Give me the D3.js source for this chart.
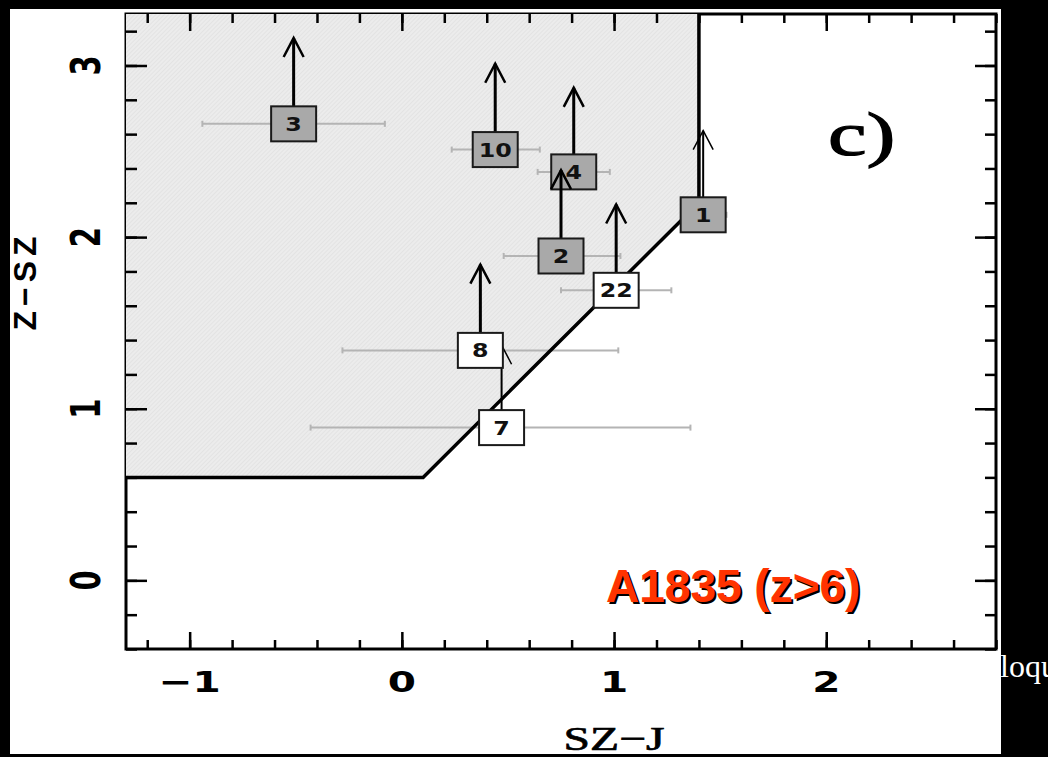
<!DOCTYPE html>
<html>
<head>
<meta charset="utf-8">
<script src="https://cdn.jsdelivr.net/npm/d3@7"></script>
<style>
  html, body { margin: 0; padding: 0; background: #000; overflow: hidden; }
  svg { display: block; }
</style>
</head>
<body>
<div id="chart"></div>
<script>
// values (drawing order matters for overlaps)
const labels   = ["3", "10", "1", "22", "7", "8", "4", "2"];
const szJ      = [-0.51, 0.44, 1.42, 1.01, 0.47, 0.37, 0.81, 0.75];
const zSz      = [2.66, 2.51, 2.13, 1.69, 0.89, 1.34, 2.38, 1.89];
const szJLow   = [-0.94, 0.235, 1.33, 0.75, -0.43, -0.28, 0.64, 0.48];
const szJHigh  = [-0.08, 0.65, 1.53, 1.27, 1.36, 1.02, 0.98, 1.03];
const zSzLimit = [3.16, 3.01, 2.62, 2.19, 1.37, 1.84, 2.87, 2.39];
const groups   = ["in", "in", "in", "out", "out", "out", "in", "in"];

// colour selection boundary
const regionX = [-1.3, 0.1, 1.4, 1.4];
const regionY = [0.6, 0.6, 2.2, 3.3];

const xTickLabels = [-1, 0, 1, 2];
const yTickLabels = [0, 1, 2, 3];

const width = 1048;
const height = 757;

const boxW = 45, boxH = 35;
const stretch = 1.4; // the original figure is stretched sideways
const thinArrows = new Set(["1", "7"]);
const boxFill = { in: "#a9a9a9", out: "#ffffff" };

const svg = d3.select("#chart")
    .append("svg")
    .attr("width", width)
    .attr("height", height);

const x = d3.scaleLinear().domain([-1.3, 2.8]).range([126, 996]);
const y = d3.scaleLinear().domain([-0.4, 3.3]).range([649, 14]);

// hatch for the shaded region
const pat = svg.append("defs").append("pattern")
    .attr("id", "hatch")
    .attr("width", 3)
    .attr("height", 3)
    .attr("patternUnits", "userSpaceOnUse")
    .attr("patternTransform", "rotate(45)");
pat.append("rect").attr("width", 3).attr("height", 3).attr("fill", "#ececec");
pat.append("line").attr("x1", 0).attr("y1", 0).attr("x2", 0).attr("y2", 3)
    .attr("stroke", "#dadada").attr("stroke-width", 1);

// slide text peeking out on the right
svg.append("text")
    .attr("x", 1000)
    .attr("y", 677)
    .attr("fill", "#fff")
    .style("font-family", "Liberation Serif")
    .style("font-size", "32px")
    .text("loqu");

// white panel
svg.append("rect")
    .attr("x", 10)
    .attr("y", 9)
    .attr("width", 991)
    .attr("height", 745)
    .attr("fill", "#fff");

// frame
svg.append("rect")
    .attr("x", x.range()[0])
    .attr("y", y.range()[1])
    .attr("width", x.range()[1] - x.range()[0])
    .attr("height", y.range()[0] - y.range()[1])
    .attr("fill", "none")
    .attr("stroke", "#000")
    .attr("stroke-width", 3);

// shaded region
const polyPts = regionX.map((d, i) => [x(d), y(regionY[i])]);
polyPts.push([x(x.domain()[0]), y(y.domain()[1])]);
svg.append("polygon")
    .attr("points", polyPts.map(p => p.join(",")).join(" "))
    .attr("fill", "url(#hatch)");

// ticks on all four sides, pointing in
const xMinor = d3.range(-6, 15).map(i => i / 5);
const yMinor = d3.range(-2, 17).map(i => i / 5);

function drawTicks(axis, transform) {
    const g = svg.append("g")
        .attr("transform", transform)
        .attr("color", "#000")
        .call(axis);
    g.select(".domain").remove();
    g.selectAll("line").attr("stroke-width", 2.5);
}

drawTicks(d3.axisBottom(x).tickValues(xMinor).tickSize(-9).tickFormat(""), `translate(0,${y.range()[0]})`);
drawTicks(d3.axisBottom(x).tickValues(xTickLabels).tickSize(-17).tickFormat(""), `translate(0,${y.range()[0]})`);
drawTicks(d3.axisTop(x).tickValues(xMinor).tickSize(-9).tickFormat(""), `translate(0,${y.range()[1]})`);
drawTicks(d3.axisTop(x).tickValues(xTickLabels).tickSize(-17).tickFormat(""), `translate(0,${y.range()[1]})`);
drawTicks(d3.axisLeft(y).tickValues(yMinor).tickSize(-11).tickFormat(""), `translate(${x.range()[0]},0)`);
drawTicks(d3.axisLeft(y).tickValues(yTickLabels).tickSize(-21).tickFormat(""), `translate(${x.range()[0]},0)`);
drawTicks(d3.axisRight(y).tickValues(yMinor).tickSize(-11).tickFormat(""), `translate(${x.range()[1]},0)`);
drawTicks(d3.axisRight(y).tickValues(yTickLabels).tickSize(-21).tickFormat(""), `translate(${x.range()[1]},0)`);

// horizontal error bars
const points = labels.map((d, i) => ({
    label: d, sx: szJ[i], sy: zSz[i], lo: szJLow[i], hi: szJHigh[i],
    lim: zSzLimit[i], group: groups[i]
}));

const errs = svg.append("g")
    .attr("stroke", "#b4b4b4")
    .attr("stroke-width", 2);
points.forEach(p => {
    errs.append("line")
        .attr("x1", x(p.lo)).attr("x2", x(p.hi))
        .attr("y1", y(p.sy)).attr("y2", y(p.sy));
    [p.lo, p.hi].forEach(e => {
        errs.append("line")
            .attr("x1", x(e)).attr("x2", x(e))
            .attr("y1", y(p.sy) - 3).attr("y2", y(p.sy) + 3);
    });
});

// boundary line
svg.append("path")
    .attr("d", d3.line()(regionX.map((d, i) => [x(d), y(regionY[i])])))
    .attr("fill", "none")
    .attr("stroke", "#000")
    .attr("stroke-width", 3.5);

// lower-limit arrows and labelled boxes
points.forEach(p => {
    const cx = x(p.sx), cy = y(p.sy), ty = y(p.lim);
    const sw = thinArrows.has(p.label) ? 2 : 3;
    svg.append("line")
        .attr("x1", cx).attr("x2", cx)
        .attr("y1", cy).attr("y2", ty)
        .attr("stroke", "#000")
        .attr("stroke-width", sw);
    svg.append("path")
        .attr("d", `M${cx - 10},${ty + 19}L${cx},${ty}L${cx + 10},${ty + 19}`)
        .attr("fill", "none")
        .attr("stroke", "#000")
        .attr("stroke-width", sw - 0.5);
    svg.append("rect")
        .attr("x", cx - boxW / 2)
        .attr("y", cy - boxH / 2)
        .attr("width", boxW)
        .attr("height", boxH)
        .attr("fill", boxFill[p.group])
        .attr("stroke", "#1a1a1a")
        .attr("stroke-width", 2);
    svg.append("text")
        .attr("transform", `translate(${cx},${cy + 7}) scale(1.25,1)`)
        .attr("text-anchor", "middle")
        .style("font-family", "DejaVu Sans")
        .style("font-weight", "bold")
        .style("font-size", "19px")
        .attr("fill", "#111")
        .text(p.label);
});

// tick labels
svg.selectAll(".xlab")
    .data(xTickLabels)
    .enter()
    .append("text")
    .attr("class", "xlab")
    .attr("transform", d => `translate(${x(d)},692) scale(${stretch},1)`)
    .attr("text-anchor", "middle")
    .style("font-family", "DejaVu Sans")
    .style("font-weight", "bold")
    .style("font-size", "29px")
    .text(d => d < 0 ? "\u2212" + Math.abs(d) : d);

svg.selectAll(".ylab")
    .data(yTickLabels)
    .enter()
    .append("text")
    .attr("class", "ylab")
    .attr("transform", d => `translate(100,${y(d)}) scale(${stretch},1) rotate(-90)`)
    .attr("text-anchor", "middle")
    .style("font-family", "DejaVu Sans")
    .style("font-weight", "bold")
    .style("font-size", "29px")
    .text(d => d);

// axis titles
svg.append("text")
    .attr("transform", `translate(614,750) scale(${stretch},1)`)
    .attr("text-anchor", "middle")
    .style("font-family", "Liberation Serif")
    .style("font-size", "34px")
    .attr("stroke", "#000")
    .attr("stroke-width", 0.7)
    .text("SZ\u2212J");

svg.append("text")
    .attr("transform", "translate(36,281) rotate(-90)")
    .attr("text-anchor", "middle")
    .style("font-family", "Liberation Sans")
    .style("font-weight", "bold")
    .style("font-size", "32px")
    .style("letter-spacing", "5px")
    .text("Z\u2212SZ");

// panel tag
svg.append("text")
    .attr("transform", `translate(828,155) scale(${stretch},1)`)
    .style("font-family", "Liberation Serif")
    .style("font-size", "62px")
    .attr("stroke", "#000")
    .attr("stroke-width", 1.2)
    .text("c)");

// cluster name with drop shadow
const tag = svg.append("g")
    .style("font-family", "Liberation Sans")
    .style("font-weight", "bold")
    .style("font-size", "46px");
tag.append("text").attr("x", 608).attr("y", 604).attr("fill", "#000").text("A1835 (z>6)");
tag.append("text").attr("x", 606).attr("y", 602).attr("fill", "#ff3300").text("A1835 (z>6)");
</script>
</body>
</html>
